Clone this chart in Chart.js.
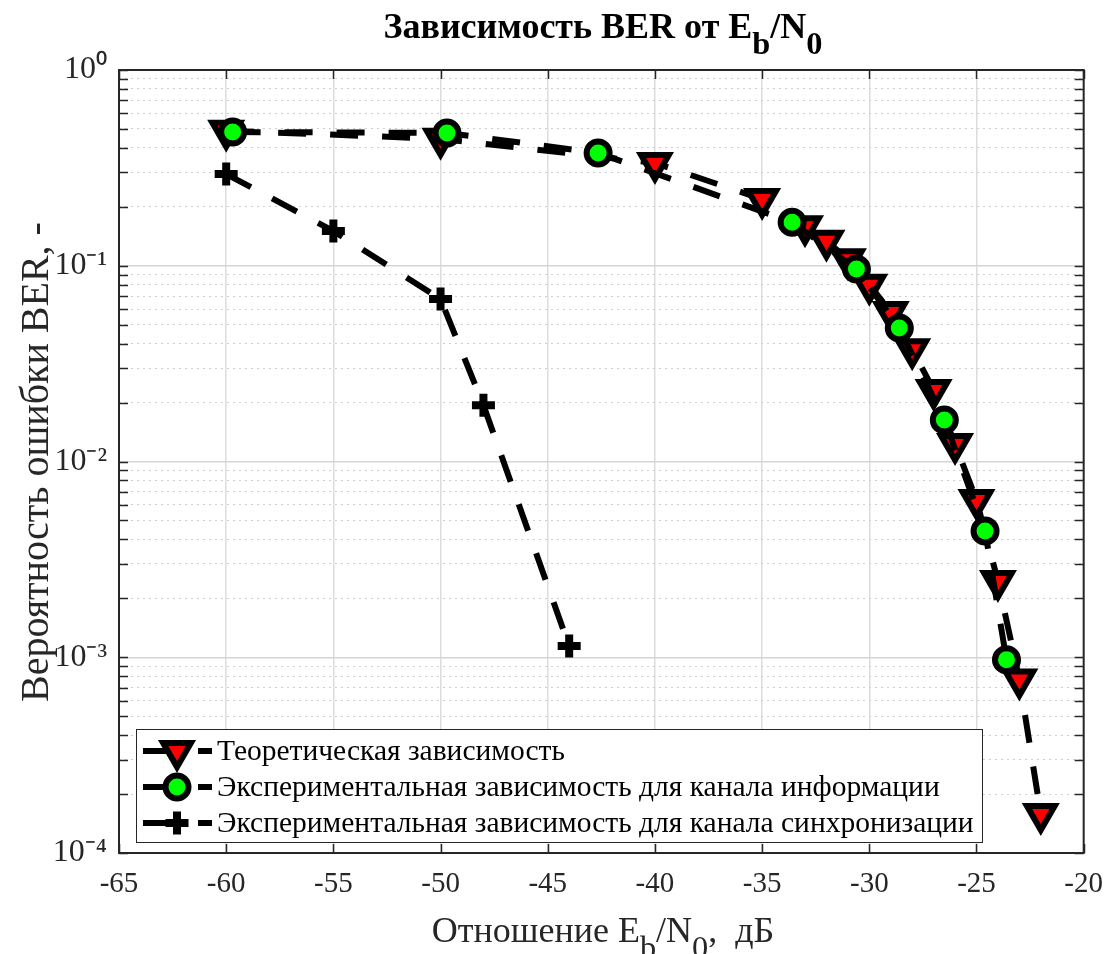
<!DOCTYPE html>
<html>
<head>
<meta charset="utf-8">
<script src="https://cdn.jsdelivr.net/npm/chart.js@4"></script>
<style>
  body { margin: 0; background: #fff; }
  #wrap { position: relative; width: 1117px; height: 954px; overflow: hidden; font-family: "Liberation Serif", "Times New Roman", serif; color: #000; }
  #title { position: absolute; left: 603px; top: 8px; transform: translateX(-50%); font-size: 36px; font-weight: bold; line-height: 36px; white-space: nowrap; }
  #xlabel { position: absolute; left: 603px; top: 912px; transform: translateX(-50%); font-size: 36px; line-height: 36px; white-space: nowrap; color: #262626; }
  #ylabel { position: absolute; left: 35px; top: 462px; transform: translate(-50%, -50%) rotate(-90deg); font-size: 40px; line-height: 40px; white-space: nowrap; color: #262626; }
  .sb { position: relative; top: 0.5em; font-size: 0.9em; }
</style>
</head>
<body>
<div id="wrap">
  <canvas id="chart"></canvas>
  <div id="title">Зависимость BER от E<span class="sb">b</span>/N<span class="sb">0</span></div>
  <div id="xlabel">Отношение E<span class="sb">b</span>/N<span class="sb">0</span>,&nbsp; дБ</div>
  <div id="ylabel">Вероятность ошибки BER, -</div>
</div>
<script>
// Eb/N0, dB and BER
const theoX = [-60, -50, -40, -35, -33, -32, -31, -30, -29, -28, -27, -26, -25, -24, -23, -22];
const theoY = [0.49, 0.445, 0.335, 0.219, 0.159, 0.134, 0.108, 0.080, 0.058, 0.0375, 0.0232, 0.0123, 0.00635, 0.00245, 0.00077, 0.000158];

const infoX = [-59.7, -49.7, -42.65, -33.6, -30.6, -28.6, -26.5, -24.6, -23.6];
const infoY = [0.482, 0.477, 0.377, 0.167, 0.0962, 0.0481, 0.0163, 0.00442, 0.00097];

const syncX = [-60, -55, -50, -48, -44];
const syncY = [0.294, 0.1505, 0.0676, 0.0194, 0.00114];

const seriesLabels = [
  'Теоретическая зависимость',
  'Экспериментальная зависимость для канала информации',
  'Экспериментальная зависимость для канала синхронизации'
];

const xTicks = [-65, -60, -55, -50, -45, -40, -35, -30, -25, -20];
const yMajor = [1e-4, 1e-3, 1e-2, 1e-1, 1];
const yMajorLabels = ['10⁻⁴', '10⁻³', '10⁻²', '10⁻¹', '10⁰'];
const yMinorSteps = [2, 3, 4, 5, 6, 7, 8, 9];

const AXIS = '#262626';

function pts(xs, ys) {
  return xs.map((x, i) => ({ x: x, y: ys[i] }));
}
function isMajorY(v) {
  return yMajor.some(m => Math.abs(v - m) / m < 1e-9);
}

// all y ticks: decades plus 2..9 in between
const yTicks = [];
yMajor.forEach((m, i) => {
  yTicks.push(m);
  if (i < yMajor.length - 1) yMinorSteps.forEach(s => yTicks.push(+(s * m).toPrecision(6)));
});

// box round the plot, with inward tick marks
const axesBox = {
  id: 'axesBox',
  beforeDatasetsDraw(chart) {
    const { ctx, chartArea: a, scales } = chart;
    ctx.save();
    ctx.strokeStyle = AXIS;
    ctx.lineWidth = 1.5;
    ctx.beginPath();
    xTicks.forEach(v => {
      const px = Math.round(scales.x.getPixelForValue(v)) + 0.5;
      ctx.moveTo(px, a.bottom); ctx.lineTo(px, a.bottom - 9);
      ctx.moveTo(px, a.top); ctx.lineTo(px, a.top + 9);
    });
    yTicks.forEach(v => {
      const py = Math.round(scales.y.getPixelForValue(v)) + 0.5;
      ctx.moveTo(a.left, py); ctx.lineTo(a.left + 9, py);
      ctx.moveTo(a.right, py); ctx.lineTo(a.right - 9, py);
    });
    ctx.stroke();
    ctx.lineWidth = 2;
    ctx.strokeRect(a.left, a.top, a.right - a.left, a.bottom - a.top);
    ctx.restore();
  }
};

// legend in the lower left corner, line sample + marker like the plot
const boxLegend = {
  id: 'boxLegend',
  afterDatasetsDraw(chart) {
    const { ctx, chartArea: a } = chart;
    const left = a.left + 17, top = a.bottom - 124, w = 846, h = 113;
    ctx.save();
    ctx.fillStyle = '#fff';
    ctx.fillRect(left, top, w, h);
    ctx.strokeStyle = AXIS;
    ctx.lineWidth = 1;
    ctx.strokeRect(left + 0.5, top + 0.5, w, h);
    chart.data.datasets.forEach((d, i) => {
      const y = top + 22 + i * 36;
      ctx.strokeStyle = d.borderColor;
      ctx.lineWidth = d.borderWidth;
      ctx.setLineDash([40, 15]);
      ctx.beginPath();
      ctx.moveTo(left + 7, y); ctx.lineTo(left + 76, y);
      ctx.stroke();
      ctx.setLineDash([]);
      ctx.fillStyle = d.pointBackgroundColor;
      ctx.strokeStyle = d.pointBorderColor;
      ctx.lineWidth = d.pointBorderWidth;
      Chart.helpers.drawPoint(ctx, {
        pointStyle: d.pointStyle, rotation: d.pointRotation || 0,
        radius: d.pointRadius, borderWidth: d.pointBorderWidth
      }, left + 41, y);
      ctx.fillStyle = '#000';
      ctx.font = '29.5px "Liberation Serif"';
      ctx.textBaseline = 'middle';
      ctx.fillText(d.label, left + 81, y + 1);
    });
    ctx.restore();
  }
};

new Chart(document.getElementById('chart'), {
  type: 'line',
  data: {
    datasets: [
      {
        label: seriesLabels[0],
        data: pts(theoX, theoY),
        borderColor: '#000', borderWidth: 6, borderDash: [28, 24],
        pointStyle: 'triangle', pointRotation: 180, pointRadius: 16, pointHoverRadius: 16,
        pointBorderWidth: 6, pointBackgroundColor: '#ff0000', pointBorderColor: '#000',
        order: 1
      },
      {
        label: seriesLabels[1],
        data: pts(infoX, infoY),
        borderColor: '#000', borderWidth: 6, borderDash: [28, 24],
        pointStyle: 'circle', pointRadius: 11.5, pointHoverRadius: 11.5,
        pointBorderWidth: 6, pointBackgroundColor: '#00ff00', pointBorderColor: '#000',
        order: 0
      },
      {
        label: seriesLabels[2],
        data: pts(syncX, syncY),
        borderColor: '#000', borderWidth: 6, borderDash: [28, 24],
        pointStyle: 'cross', pointRadius: 11.5, pointHoverRadius: 11.5,
        pointBorderWidth: 8, pointBackgroundColor: '#000', pointBorderColor: '#000',
        order: 2
      }
    ]
  },
  options: {
    responsive: true,
    maintainAspectRatio: false,
    animation: false,
    clip: false,
    layout: { padding: { top: 70, right: 29, left: 0, bottom: 0 } },
    plugins: {
      legend: { display: false },
      title: { display: false },
      tooltip: { enabled: false }
    },
    scales: {
      x: {
        type: 'linear', min: -65, max: -20,
        afterBuildTicks(scale) { scale.ticks = xTicks.map(v => ({ value: v })); },
        afterFit(scale) { scale.height = 101; },
        ticks: { color: AXIS, font: { family: 'Liberation Serif', size: 29 }, padding: 14, maxRotation: 0 },
        grid: { color: '#dcdcdc', lineWidth: 1.5, drawTicks: false },
        border: { display: false }
      },
      y: {
        type: 'logarithmic', min: 1e-4, max: 1,
        afterBuildTicks(scale) { scale.ticks = yTicks.map(v => ({ value: v, major: isMajorY(v) })); },
        afterFit(scale) { scale.width = 119; },
        ticks: {
          autoSkip: false, color: AXIS, padding: 12,
          font: { family: 'Liberation Serif', size: 32 },
          callback(v) {
            const k = yMajor.findIndex(m => Math.abs(v - m) / m < 1e-9);
            return k >= 0 ? yMajorLabels[k] : '';
          }
        },
        grid: {
          drawTicks: false,
          color: c => isMajorY(c.tick.value) ? '#d6d6d6' : '#cfcfcf',
          lineWidth: c => isMajorY(c.tick.value) ? 1.5 : 1
        },
        border: { display: false, dash: c => (c.tick && isMajorY(c.tick.value)) ? [] : [2, 4] }
      }
    }
  },
  plugins: [axesBox, boxLegend]
});
</script>
</body>
</html>
